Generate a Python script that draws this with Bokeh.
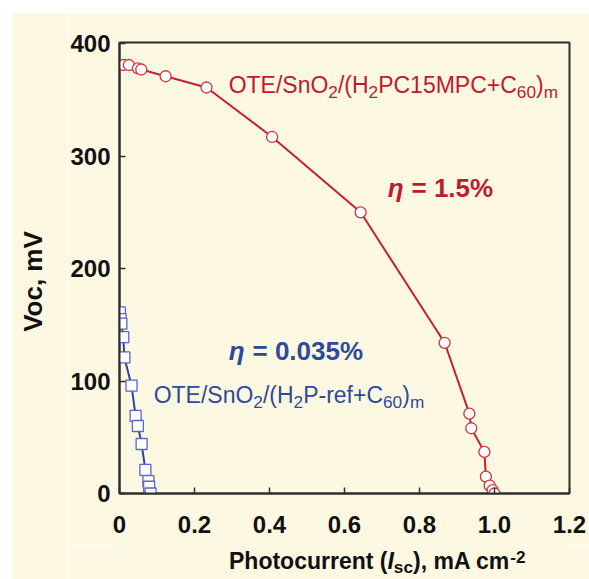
import math

from bokeh.plotting import figure
from bokeh.layouts import row, column
from bokeh.models import Label, FixedTicker, Range1d
from bokeh.embed import file_html
from bokeh.resources import INLINE

# Photocurrent (mA cm^-2) vs open-circuit voltage (mV)
red_isc = [0.011, 0.025, 0.049, 0.058, 0.123, 0.232, 0.407, 0.643, 0.867,
           0.933, 0.938, 0.973, 0.977, 0.987, 0.995, 1.000]
red_voc = [381, 381, 378, 377, 371, 361, 317, 250, 134, 71, 58, 37, 15, 7, 3, 0]

blue_isc = [0.001, 0.003, 0.005, 0.010, 0.013, 0.032, 0.043, 0.049, 0.059,
            0.069, 0.077, 0.079, 0.083]
blue_voc = [161, 155, 151, 139, 121, 96, 69, 60, 44, 21, 11, 6, 0]

x_ticks = [0, 0.2, 0.4, 0.6, 0.8, 1.0, 1.2]
x_tick_labels = ["0", "0.2", "0.4", "0.6", "0.8", "1.0", "1.2"]
y_ticks = [0, 100, 200, 300, 400]

red_name = [("OTE/SnO", "n"), ("2", "sub"), ("/(H", "n"), ("2", "sub"),
            ("PC15MPC+C", "n"), ("60", "sub"), (")", "n"), ("m", "sub")]
blue_name = [("OTE/SnO", "n"), ("2", "sub"), ("/(H", "n"), ("2", "sub"),
             ("P-ref+C", "n"), ("60", "sub"), (")", "n"), ("m", "sub")]
red_eff = [("\u03b7", "i"), (" = 1.5%", "n")]
blue_eff = [("\u03b7", "i"), (" = 0.035%", "n")]
x_title = [("Photocurrent (", "n"), ("I", "i"), ("sc", "sub"),
           ("), mA cm", "n"), ("-2", "sup")]
y_title = "Voc, mV"

FONT = "Liberation Sans"
BG = "#fdf8e2"
INK = "#2e2e2e"
RED_LINE = "#c81f30"
RED_EDGE = "#d0343f"
RED_TEXT = "#c01a2c"
BLUE_LINE = "#2c46a2"
BLUE_EDGE = "#5866c6"
BLUE_TEXT = "#2e4a9c"
SUB = 0.75

# Advance widths (1/1000 em) of Liberation Sans, regular and bold
W_REG = {' ': 278, '%': 889, '(': 333, ')': 333, '+': 584, '-': 333, '.': 278,
         '/': 278, '=': 584, 'C': 722, 'E': 667, 'H': 722, 'M': 833, 'O': 778,
         'P': 667, 'S': 667, 'T': 611, 'e': 556, 'f': 278, 'm': 833, 'n': 556,
         'r': 333, 'c': 500, 's': 500, '\u03b7': 556}
W_BOLD = {' ': 278, '%': 889, '(': 333, ')': 333, '+': 584, '-': 333, '.': 278,
          '/': 278, '=': 584, 'C': 722, 'E': 667, 'H': 722, 'M': 833, 'O': 778,
          'P': 667, 'S': 667, 'T': 611, 'e': 556, 'f': 333, 'm': 889, 'n': 611,
          'r': 389, 'c': 556, 's': 556, 'A': 722, 'h': 611, 'o': 611, 't': 333,
          'u': 611, ',': 278, 'I': 278, 'V': 667, '\u03b7': 640}
for d in (W_REG, W_BOLD):
    for ch in "0123456789":
        d[ch] = 556


def text_width(txt, size, bold):
    table = W_BOLD if bold else W_REG
    return sum(table.get(c, 556) for c in txt) * size / 1000.0


def rich_text(fig, x, y, parts, size, color, bold, align="left",
              sub_drop=5, sup_rise=8):
    """Lay out text pieces with sub/superscripts around one anchor point."""
    pieces = []
    off = 0.0
    for txt, role in parts:
        s = size if role in ("n", "i") else size * SUB
        body = txt.lstrip(" ")
        off += text_width(txt[:len(txt) - len(body)], s, bold)
        pieces.append((off, body, role, s))
        off += text_width(body, s, bold)
    shift = -off / 2 if align == "center" else 0.0
    drop = 0.35 * size * (1 - SUB)
    for o, body, role, s in pieces:
        dy = {"n": 0, "i": 0, "sub": -(drop + sub_drop),
              "sup": sup_rise - drop}[role]
        style = "bold" if bold else "normal"
        if role == "i":
            style = "bold italic" if bold else "italic"
        fig.add_layout(Label(x=x, y=y, x_offset=o + shift, y_offset=dy,
                             text=body, text_font=FONT,
                             text_font_size=f"{s:.1f}px",
                             text_font_style=style, text_color=color,
                             text_align="left", text_baseline="middle"))


def blank_panel(w, h):
    f = figure(width=w, height=h, x_range=Range1d(0, w), y_range=Range1d(0, h),
               x_axis_type=None, y_axis_type=None, min_border=0,
               output_backend="svg", toolbar_location=None)
    f.outline_line_color = None
    f.grid.visible = False
    f.background_fill_color = BG
    f.border_fill_color = BG
    return f


# main plot
p = figure(width=522, height=532,
           x_range=Range1d(0, 1.2), y_range=Range1d(0, 401),
           output_backend="svg", toolbar_location=None,
           min_border_left=52, min_border_right=20,
           min_border_top=29, min_border_bottom=52)

p.background_fill_color = BG
p.border_fill_color = BG
p.outline_line_color = INK
p.outline_line_width = 2
p.grid.visible = False

for ax in (p.xaxis[0], p.yaxis[0]):
    ax.axis_line_color = INK
    ax.axis_line_width = 2
    ax.major_tick_in = 6
    ax.major_tick_out = 0
    ax.major_tick_line_color = INK
    ax.major_tick_line_width = 1.5
    ax.minor_tick_line_color = None
    ax.major_label_text_font = FONT
    ax.major_label_text_font_size = "24px"
    ax.major_label_text_font_style = "bold"
    ax.major_label_text_color = "#111111"

p.xaxis.ticker = FixedTicker(ticks=x_ticks)
p.xaxis.major_label_overrides = {t: s for t, s in zip(x_ticks, x_tick_labels)}
p.xaxis.major_label_standoff = 22
p.yaxis.ticker = FixedTicker(ticks=y_ticks)
p.yaxis.major_label_standoff = 9

# curves
p.line(red_isc, red_voc, line_color=RED_LINE, line_width=2)
p.scatter(red_isc, red_voc, marker="circle", size=11, fill_color="white",
          line_color=RED_EDGE, line_width=1.3)
p.line(blue_isc, blue_voc, line_color=BLUE_LINE, line_width=2)
p.scatter(blue_isc, blue_voc, marker="square", size=11, fill_color="white",
          line_color=BLUE_EDGE, line_width=1.3)

# series annotations
rich_text(p, 0.291, 363, red_name, 23, RED_TEXT, False)
rich_text(p, 0.715, 272, red_eff, 26, RED_TEXT, True)
rich_text(p, 0.291, 127, blue_eff, 26, BLUE_TEXT, True)
rich_text(p, 0.091, 88, blue_name, 23, BLUE_TEXT, False)

# axis titles in side panels
left_panel = blank_panel(55, 566)
left_panel.add_layout(Label(x=20, y=298, text=y_title, angle=math.pi / 2,
                            text_font=FONT, text_font_size="26px",
                            text_font_style="bold", text_color="#111111",
                            text_align="center", text_baseline="middle"))

bottom_panel = blank_panel(522, 34)
rich_text(bottom_panel, 299, 19, x_title, 23, "#111111", True,
          align="center", sub_drop=4, sup_rise=6)

page = row(left_panel, column(p, bottom_panel, spacing=0), spacing=0,
           margin=(13, 0, 0, 12))

open("out.html", "w").write(file_html(page, INLINE))
